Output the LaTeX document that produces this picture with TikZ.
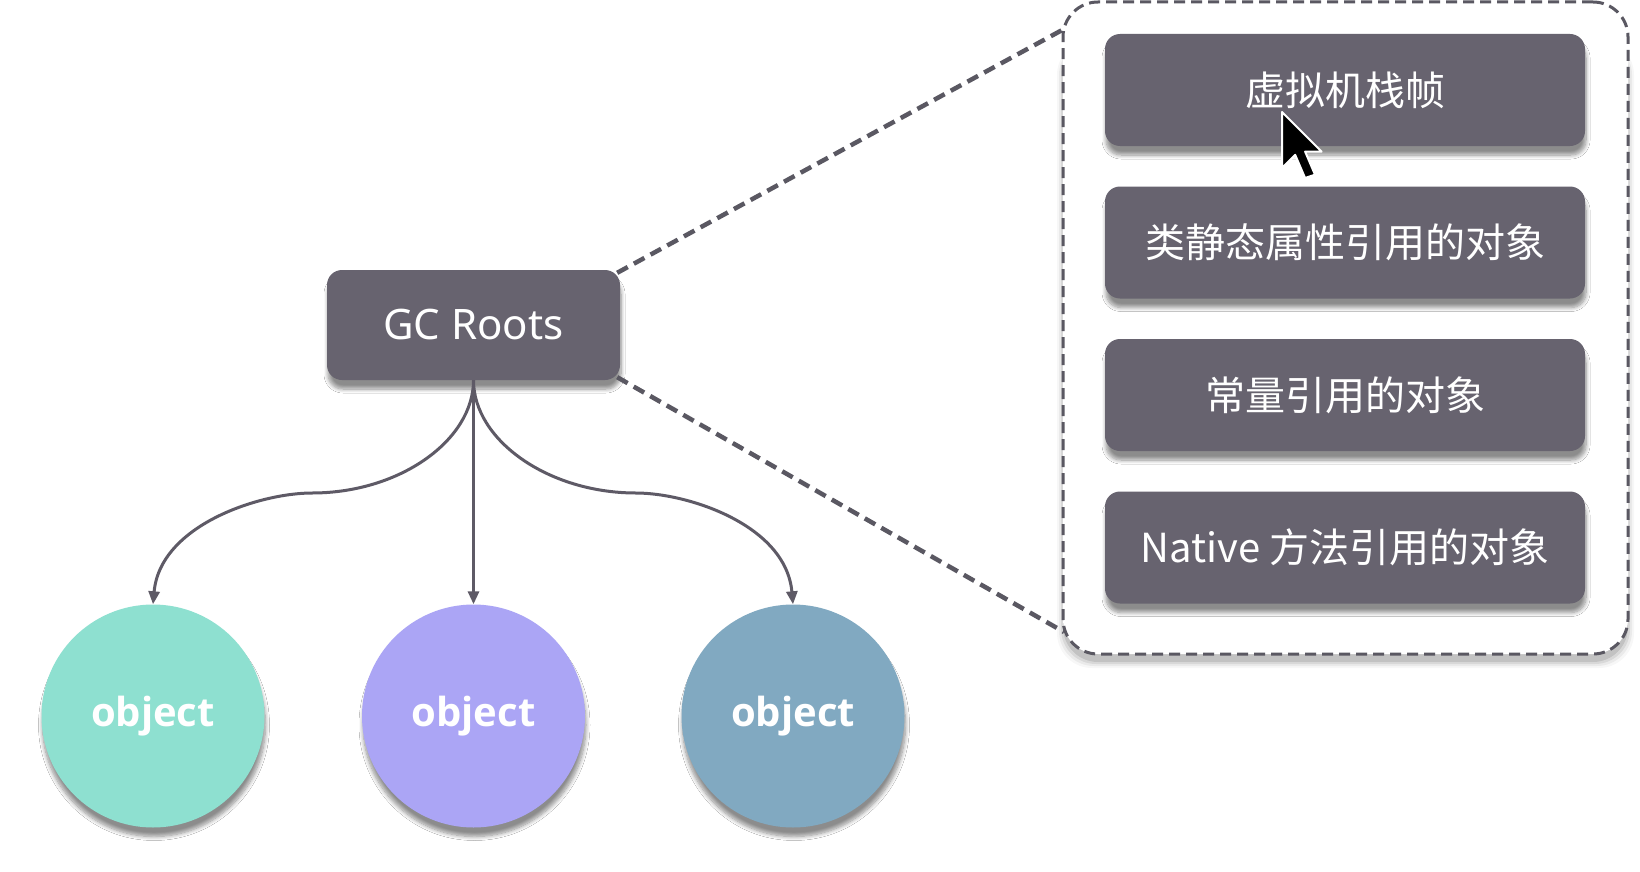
\documentclass[tikz,border=0pt]{standalone}
\usepackage{fontspec}
\setmainfont{Noto Sans}
\newfontfamily\cjk{Noto Sans CJK SC}
\newfontfamily\objfont{Open Sans}
\usetikzlibrary{shadows.blur,arrows.meta}
\definecolor{boxgray}{HTML}{67636F}
\definecolor{linegray}{HTML}{5E5A66}
\definecolor{dashgray}{HTML}{5A5862}
\definecolor{objteal}{HTML}{8EE0D0}
\definecolor{objlav}{HTML}{ABA5F5}
\definecolor{objblue}{HTML}{81A9C1}
\tikzset{
  softshadow/.style={blur shadow={shadow xshift=1pt, shadow yshift=-9pt, shadow blur radius=4pt, shadow blur steps=8, shadow opacity=45}},
  rootbox/.style={rectangle, rounded corners=15pt, fill=boxgray, text=white, softshadow,
    minimum width=293pt, minimum height=110pt, font=\fontsize{42}{50}\selectfont},
  itembox/.style={rectangle, rounded corners=15pt, fill=boxgray, text=white, softshadow,
    minimum width=480pt, minimum height=112pt, font=\cjk\fontsize{40}{48}\selectfont},
  objcircle/.style={circle, minimum size=223pt, inner sep=0pt, text=white, softshadow,
    font=\objfont\bfseries\fontsize{40}{48}\selectfont},
  frame/.style={rectangle, rounded corners=35pt, fill=white, draw=dashgray, line width=3pt,
    dash pattern=on 11pt off 6pt, minimum width=565pt, minimum height=652pt},
  framelayer/.style={fill=black, rounded corners=35pt},
  treearrow/.style={draw=linegray, line width=3pt, -{Triangle[length=13pt,width=11pt]}},
  zoomline/.style={draw=dashgray, line width=4.5pt, dash pattern=on 12pt off 7pt},
}
\begin{document}
\begin{tikzpicture}[x=1pt,y=1pt]
\useasboundingbox (0,0) rectangle (1640,-872);
\fill[white] (0,0) rectangle (1640,-872);

% frame shadow
\foreach \d/\o in {0/0.10, 2/0.07, 4/0.05, 6/0.03}{
  \fill[framelayer, opacity=\o] (1063-\d,-662-\d) rectangle (1628+\d,-40);
}
% right dashed frame
\node[frame] (frame) at (1345.5,-328) {};
\node[itembox] (b1) at (1345,-90) {虚拟机栈帧};
\node[itembox] (b2) at (1345,-242.5) {类静态属性引用的对象};
\node[itembox] (b3) at (1345,-395) {常量引用的对象};
\node[itembox] (b4) at (1345,-547.5) {Native 方法引用的对象};

% GC Roots
\node[rootbox] (gc) at (473.5,-325) {GC Roots};

% objects
\node[objcircle, fill=objteal] (o1) at (153,-716) {object};
\node[objcircle, fill=objlav] (o2) at (473.5,-716) {object};
\node[objcircle, fill=objblue] (o3) at (793,-716) {object};

% zoom lines
\coordinate (ftop) at (1064,-29);
\coordinate (fbot) at (1064,-632);
\draw[zoomline] ([xshift=-3pt,yshift=-3pt]gc.north east) -- (ftop);
\draw[zoomline] ([xshift=-3pt,yshift=3pt]gc.south east) -- (fbot);

% tree arrows
\draw[treearrow] (gc.south) .. controls (473.5,-440) and (400,-493) .. (312,-493)
  .. controls (260,-493) and (160,-525) .. (o1.north);
\draw[treearrow] (gc.south) -- (o2.north);
\draw[treearrow] (gc.south) .. controls (473.5,-440) and (548,-493) .. (636,-493)
  .. controls (688,-493) and (786,-525) .. (o3.north);

% mouse cursor
\begin{scope}[shift={(1282,-112)}, scale=3.3]
\draw[fill=black, draw=white, line width=2pt, line join=round]
  (0,0) -- (0,-17) -- (4,-13) -- (7,-20) -- (10,-19) -- (7,-12) -- (12,-12) -- cycle;
\end{scope}
\end{tikzpicture}
\end{document}
